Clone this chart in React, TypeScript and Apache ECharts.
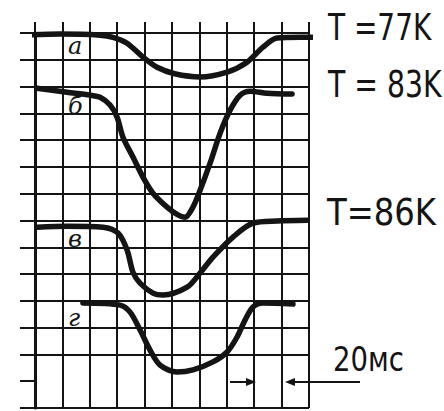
import React, { useEffect, useRef } from "react";
import * as echarts from "echarts";

// time in ms (one grid division = 20 ms), signal in grid divisions from the bottom
const curveA_t = [-12.4, 18.2, 47.5, 56.9, 67.2, 78.8, 89.1, 102.0, 120.5, 140.2, 154.8, 166.4, 176.7, 193.5, 209.5];
const curveA_v = [13.92, 13.96, 13.92, 13.84, 13.62, 13.1, 12.72, 12.48, 12.36, 12.54, 12.91, 13.47, 13.81, 13.84, 13.84];

const curveB_t = [1.5, 23.4, 40.2, 47.5, 54.8, 59.9, 64.2, 71.5, 78.8, 86.1, 96.4, 104.0, 109.5, 115.3, 120.5, 127.8, 135.1, 142.4, 149.7, 157.0, 169.4, 187.6];
const curveB_v = [11.94, 11.79, 11.68, 11.6, 11.31, 10.86, 10.11, 9.37, 8.62, 8.02, 7.5, 7.22, 7.12, 7.5, 8.13, 9.14, 10.26, 11.12, 11.68, 11.83, 11.75, 11.72];

const curveV_t = [1.5, 23.4, 49.6, 60.6, 67.2, 71.5, 76.7, 86.1, 93.4, 111.0, 120.5, 129.9, 144.5, 159.1, 176.7, 198.6];
const curveV_v = [6.75, 6.79, 6.75, 6.53, 5.9, 5.07, 4.66, 4.29, 4.22, 4.51, 5.04, 5.63, 6.38, 6.9, 6.98, 7.01];

const curveG_t = [35.0, 62.1, 69.4, 76.7, 84.0, 91.3, 103.7, 115.3, 129.9, 140.2, 147.5, 153.3, 159.1, 166.4, 188.3];
const curveG_v = [3.92, 3.84, 3.58, 2.91, 2.16, 1.6, 1.34, 1.42, 1.72, 2.09, 2.65, 3.28, 3.77, 3.92, 3.88];

const curveNames = ["а", "б", "в", "г"];
const tempLabels = ["T =77K", "T = 83K", "T=86K"];
const scaleLabel = "20мс";

const INK = "#141414";

function pairs(t: number[], v: number[]) {
  return t.map((x, i) => [x, v[i]]);
}

export default function App() {
  const ref = useRef<HTMLDivElement>(null);
  useEffect(() => {
    document.body.style.margin = "0";
    const chart = echarts.init(ref.current!, null, { renderer: "svg" });
    const hLineColors = Array.from({ length: 15 }, (_, i) => (i === 1 ? "rgba(0,0,0,0)" : INK));
    const lineSeries = (name: string, t: number[], v: number[]) => ({
      name,
      type: "line",
      data: pairs(t, v),
      smooth: 0.3,
      showSymbol: false,
      symbol: "none",
      clip: false,
      lineStyle: { color: INK, width: 5.5, cap: "round", join: "round" },
      z: 5,
    });
    const bigFont = '37px "DejaVu Sans Condensed", "DejaVu Sans", sans-serif';
    const midFont = '34px "DejaVu Sans Condensed", "DejaVu Sans", sans-serif';
    const handFont = 'italic 24px "DejaVu Serif", serif';
    const hand = (i: number, x: number, y: number) => ({
      type: "text",
      x,
      y,
      style: { text: curveNames[i], font: handFont, fill: INK, textVerticalAlign: "middle" },
    });
    chart.setOption({
      animation: false,
      backgroundColor: "#fff",
      grid: { left: 35, right: 135, top: 33, bottom: 3, containLabel: false },
      xAxis: [
        {
          type: "value",
          min: 0,
          max: 200,
          interval: 20,
          position: "bottom",
          axisLine: { show: false },
          axisTick: { show: false },
          axisLabel: { show: false },
          splitLine: { show: true, lineStyle: { color: INK, width: 2 } },
        },
        {
          type: "value",
          min: 0,
          max: 200,
          interval: 20,
          position: "top",
          axisLine: { show: false },
          axisTick: { show: true, length: 11, lineStyle: { color: INK, width: 2 } },
          axisLabel: { show: false },
          splitLine: { show: false },
        },
      ],
      yAxis: {
        type: "value",
        min: 0,
        max: 14,
        interval: 1,
        axisLine: { show: true, lineStyle: { color: INK, width: 3 } },
        axisTick: {
          show: true,
          length: 15,
          lineStyle: { color: INK, width: 2 },
        },
        axisLabel: { show: false },
        splitLine: { show: true, lineStyle: { color: hLineColors, width: 2 } },
      },
      series: [
        lineSeries(curveNames[0], curveA_t, curveA_v),
        lineSeries(curveNames[1], curveB_t, curveB_v),
        lineSeries(curveNames[2], curveV_t, curveV_v),
        lineSeries(curveNames[3], curveG_t, curveG_v),
      ],
      graphic: [
        hand(0, 68, 46),
        hand(1, 68, 106),
        hand(2, 68, 239),
        hand(3, 68, 318),
        { type: "text", x: 328, y: 27, scaleX: 0.84, style: { text: tempLabels[0], font: bigFont, fill: INK, textVerticalAlign: "middle" } },
        { type: "text", x: 328, y: 84, scaleX: 0.85, style: { text: tempLabels[1], font: bigFont, fill: INK, textVerticalAlign: "middle" } },
        { type: "text", x: 327, y: 212, scaleX: 0.97, style: { text: tempLabels[2], font: bigFont, fill: INK, textVerticalAlign: "middle" } },
        { type: "text", x: 333, y: 359, scaleX: 0.9, style: { text: scaleLabel, font: midFont, fill: INK, textVerticalAlign: "middle" } },
        { type: "line", shape: { x1: 230, y1: 382, x2: 250, y2: 382 }, style: { stroke: INK, lineWidth: 2 } },
        { type: "polygon", shape: { points: [[256, 382], [246, 378], [246, 386]] }, style: { fill: INK } },
        { type: "line", shape: { x1: 292, y1: 382, x2: 360, y2: 382 }, style: { stroke: INK, lineWidth: 2 } },
        { type: "polygon", shape: { points: [[285, 382], [295, 378], [295, 386]] }, style: { fill: INK } },
      ],
    });
    return () => chart.dispose();
  }, []);
  return <div ref={ref} style={{ width: 444, height: 411 }} />;
}
